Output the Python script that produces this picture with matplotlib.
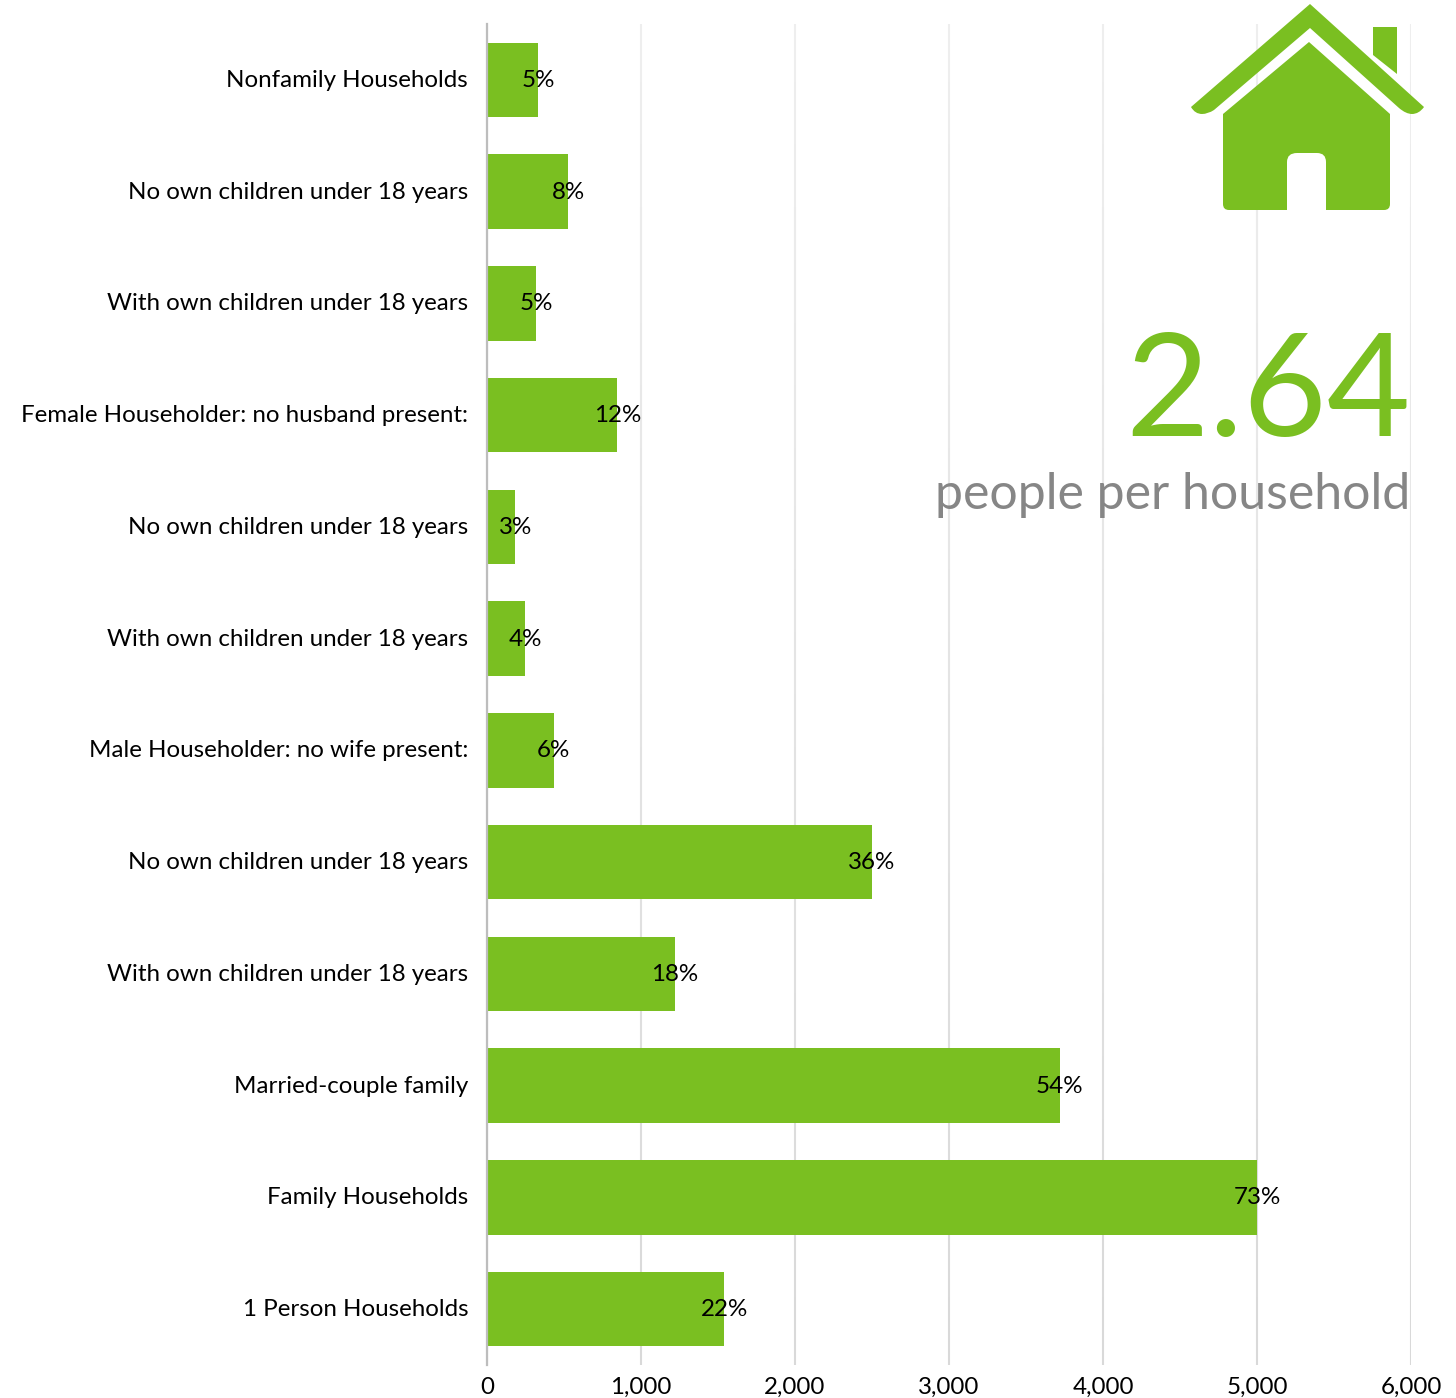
import matplotlib
matplotlib.use('Agg')
import numpy as np
from matplotlib import pyplot as plt
from matplotlib.patches import PathPatch
from matplotlib.path import Path
from matplotlib.ticker import FuncFormatter
from matplotlib.transforms import Affine2D

categories = ['Nonfamily Households', 'No own children under 18 years',
              'With own children under 18 years', 'Female Householder: no husband present:',
              'No own children under 18 years', 'With own children under 18 years',
              'Male Householder: no wife present:', 'No own children under 18 years',
              'With own children under 18 years', 'Married-couple family',
              'Family Households', '1 Person Households']
households = [331, 526, 321, 847, 185, 247, 432, 2497, 1221, 3718, 5000, 1542]
shares = ['5%', '8%', '5%', '12%', '3%', '4%', '6%', '36%', '18%', '54%', '73%', '22%']
ticks = [0, 1000, 2000, 3000, 4000, 5000, 6000]

GREEN = '#7abf21'
W, H = 1456, 1398

plt.rcParams['font.family'] = ['Lato', 'DejaVu Sans']

fig = plt.figure(figsize=(W / 100, H / 100), dpi=100)
ax = fig.add_axes([487 / W, 1 - 1365 / H, (1411 - 487) / W, (1365 - 24) / H])

y = list(range(len(categories)))
ax.barh(y, households, height=0.667, color=GREEN, zorder=2)
ax.set_yticks(y, categories)
ax.set_xticks(ticks)
ax.xaxis.set_major_formatter(FuncFormatter(lambda v, _: f'{int(v):,}'))
ax.tick_params(axis='both', length=0, labelsize=17.4, labelcolor='black')
ax.tick_params(axis='y', pad=13.5)
ax.tick_params(axis='x', pad=8.5)
ax.grid(axis='x', color='#d9d9d9', linewidth=1.5)
for name in ['top', 'right', 'bottom']:
    ax.spines[name].set_visible(False)
ax.spines['left'].set_color('#bdbdbd')
ax.spines['left'].set_linewidth(1.6)

# white wash over the grid so the lines fade out towards the top
# (axis artists sit at zorder 1.5, the bars at 2)
wash = np.ones((256, 1, 4))
wash[:, 0, 3] = np.linspace(0.58, 0, 256)
ax.imshow(wash, extent=(0, 6000, len(categories) - 0.5, -0.5), aspect='auto', zorder=1.7)
ax.set_xlim(0, 6000)
ax.set_ylim(len(categories) - 0.5, -0.5)

# nudge text up a little from the bar centres
nudge = Affine2D().translate(0, 1.5)
for label in ax.get_yticklabels():
    label.set_verticalalignment('center_baseline')
    label.set_transform(label.get_transform() + nudge)

# share labels centred on the bar ends
for pos, val, share in zip(y, households, shares):
    ax.text(val, pos, share, ha='center', va='center_baseline', fontsize=17.4,
            color='black', zorder=4, transform=ax.transData + nudge)

# house icon, in pixel coordinates from the top left of the figure
px = Affine2D().scale(1 / W, -1 / H).translate(0, 1) + fig.transFigure
M, L, C, Z = Path.MOVETO, Path.LINETO, Path.CURVE3, Path.CLOSEPOLY
roof = [(1310, 4, M), (1424, 107, L), (1419, 114, C), (1412, 114, L), (1406, 114, C),
        (1399, 108, L), (1310, 28, L), (1214, 110, L), (1208, 114, C), (1202, 114, L),
        (1195, 114, C), (1191, 107, L), (1310, 4, Z)]
chimney = [(1373, 27, M), (1397, 27, L), (1397, 74, L), (1373, 55, L), (1373, 27, Z)]
body = [(1309, 42, M), (1390, 114, L), (1390, 204, L), (1390, 210, C), (1384, 210, L),
        (1326, 210, L), (1326, 162, L), (1326, 153, C), (1317, 153, L), (1297, 153, L),
        (1287, 153, C), (1287, 162, L), (1287, 210, L), (1229, 210, L), (1223, 210, C),
        (1223, 204, L), (1223, 114, L), (1309, 42, Z)]
for shape in (roof, chimney, body):
    path = Path([(a, b) for a, b, _ in shape], [c for _, _, c in shape])
    fig.add_artist(PathPatch(path, transform=px, facecolor=GREEN, edgecolor='none', zorder=5))

fig.text(1411 / W, 1 - 436 / H, '2.64', ha='right', va='baseline', fontsize=104,
         color=GREEN, zorder=5)
fig.text(1410 / W, 1 - 509 / H, 'people per household', ha='right', va='baseline',
         fontsize=36, color='#868686', zorder=5)

fig.savefig('out.png', dpi=100, facecolor='white')
